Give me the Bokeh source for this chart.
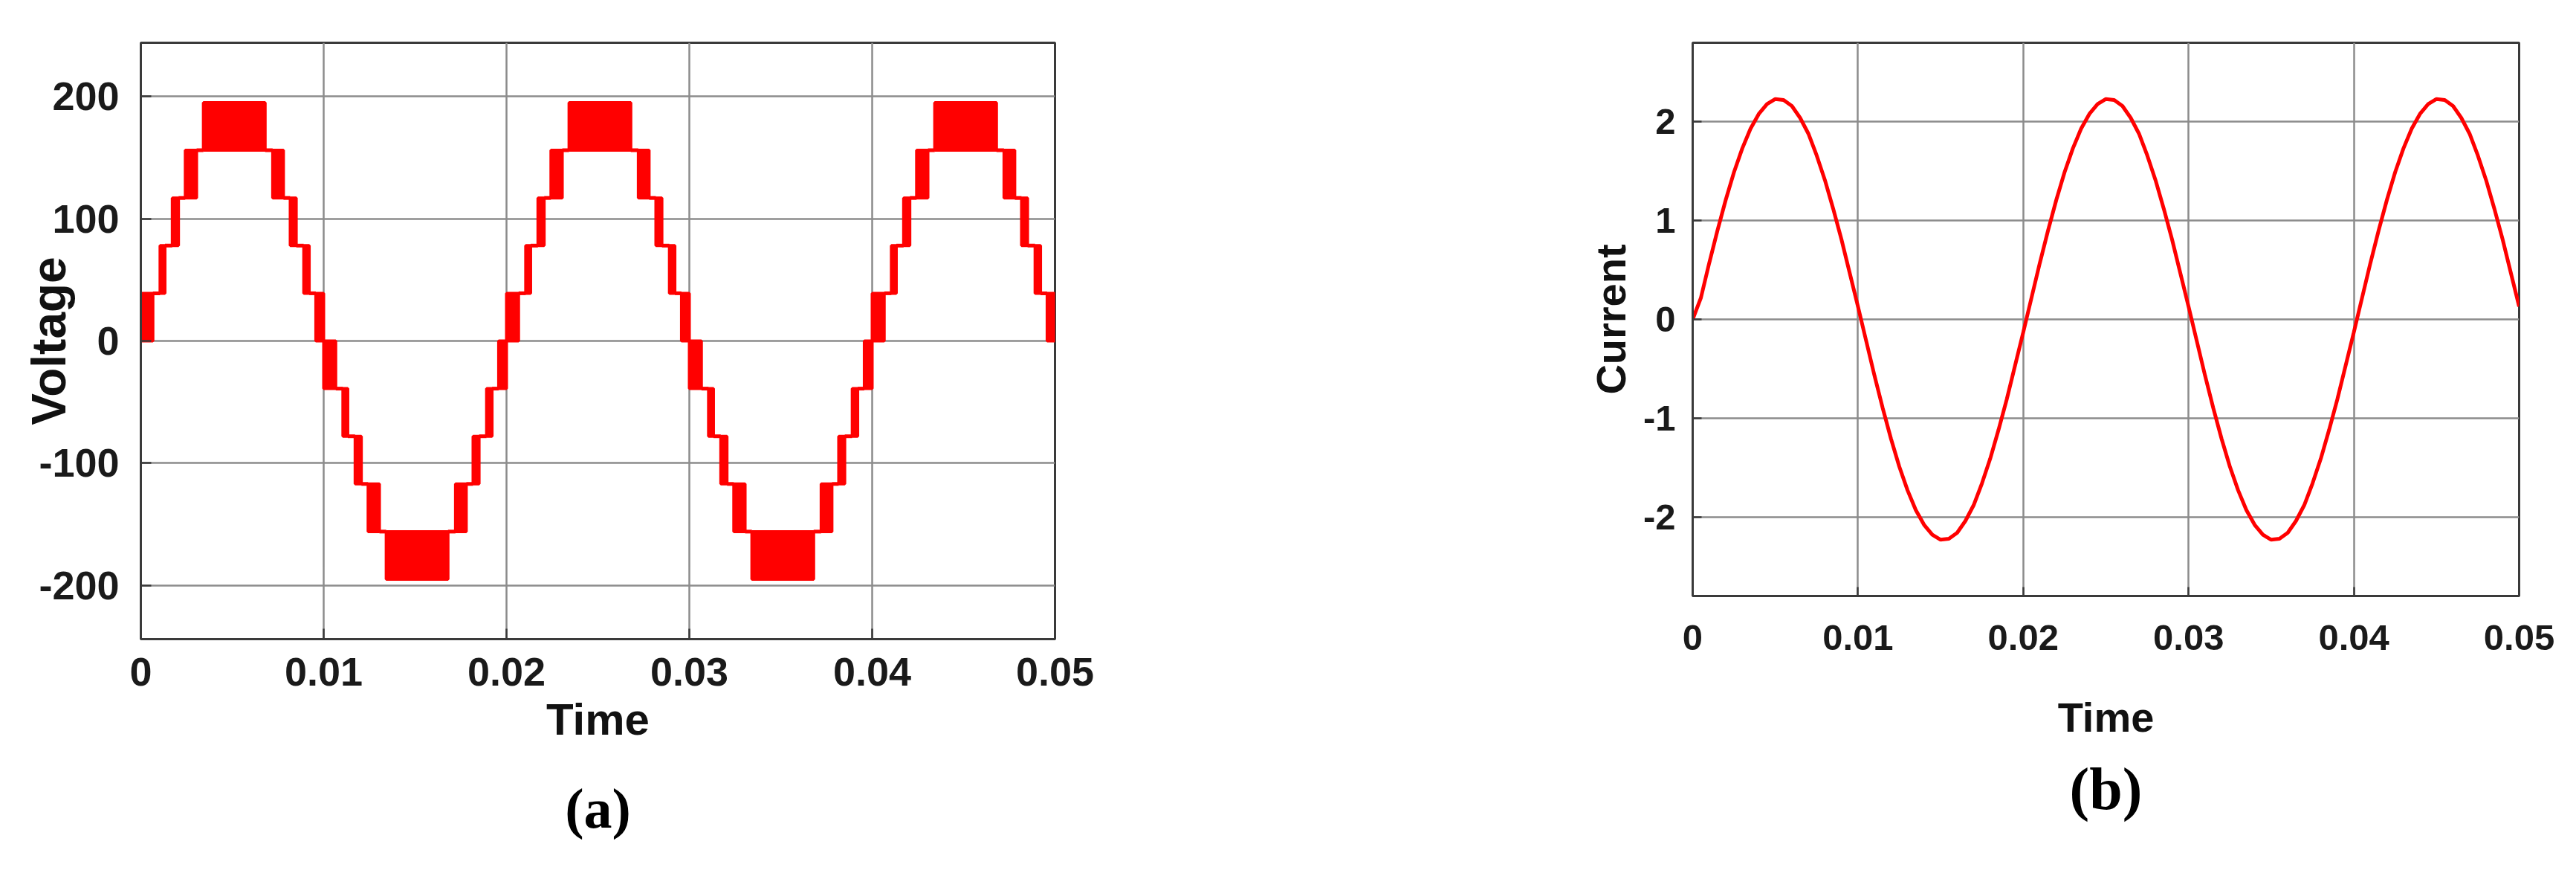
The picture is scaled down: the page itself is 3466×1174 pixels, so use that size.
from bokeh.plotting import figure
from bokeh.models import FixedTicker, Range1d, Title
from bokeh.layouts import row
from bokeh.embed import file_html
from bokeh.resources import INLINE

# ---------------- data ----------------
time_ticks = [0, 0.01, 0.02, 0.03, 0.04, 0.05]
time_tick_labels = ["0", "0.01", "0.02", "0.03", "0.04", "0.05"]
voltage_ticks = [-200, -100, 0, 100, 200]
voltage_tick_labels = ["-200", "-100", "0", "100", "200"]
current_ticks = [-2, -1, 0, 1, 2]
current_tick_labels = ["-2", "-1", "0", "1", "2"]

# (a) multilevel inverter voltage: staircase levels (V)
voltage_levels = [0, 39, 78, 117, 156, 195]
# PWM bands inside one half-cycle (ms from half-cycle start), switching lo <-> hi level
band_start_ms = [0.00, 1.05, 1.72, 2.43, 3.42, 7.21, 8.17, 8.91, 9.57]
band_end_ms = [0.66, 1.32, 2.06, 3.05, 6.80, 7.80, 8.50, 9.21, 10.00]
band_lo_level = [0, 1, 2, 3, 4, 3, 2, 1, 0]
band_hi_level = [1, 2, 3, 4, 5, 4, 3, 2, 1]
half_cycle_start_ms = [0, 10, 20, 30, 40]
half_cycle_sign = [1, -1, 1, -1, 1]

# (b) load current, sampled every 0.5 ms
current_time_ms = [0.5 * i for i in range(101)]
current_values = [
    0.00, 0.22, 0.57, 0.90, 1.21, 1.49, 1.73, 1.93, 2.08, 2.18,
    2.23, 2.22, 2.16, 2.04, 1.88, 1.66, 1.41, 1.12, 0.81, 0.47,
    0.13, -0.22, -0.57, -0.90, -1.21, -1.49, -1.73, -1.93, -2.08, -2.18,
    -2.23, -2.22, -2.16, -2.04, -1.88, -1.66, -1.41, -1.12, -0.81, -0.47,
    -0.13, 0.22, 0.57, 0.90, 1.21, 1.49, 1.73, 1.93, 2.08, 2.18,
    2.23, 2.22, 2.16, 2.04, 1.88, 1.66, 1.41, 1.12, 0.81, 0.47,
    0.13, -0.22, -0.57, -0.90, -1.21, -1.49, -1.73, -1.93, -2.08, -2.18,
    -2.23, -2.22, -2.16, -2.04, -1.88, -1.66, -1.41, -1.12, -0.81, -0.47,
    -0.13, 0.22, 0.57, 0.90, 1.21, 1.49, 1.73, 1.93, 2.08, 2.18,
    2.23, 2.22, 2.16, 2.04, 1.88, 1.66, 1.41, 1.12, 0.81, 0.47,
    0.13,
]

# ---------------- style ----------------
RED = "#ff0000"
GRID = "#8c8c8c"
BOX = "#3a3a3a"
SANS = "Liberation Sans"
SERIF = "Liberation Serif"


def style_plot(p, xt, xl, yt, yl, tick_size, tick_len, x_standoff, y_standoff,
               xlabel, ylabel, label_size_x, label_size_y, xlabel_standoff, ylabel_standoff):
    p.background_fill_color = "white"
    p.border_fill_color = "white"
    p.outline_line_color = BOX
    p.outline_line_width = 3
    p.outline_line_alpha = 1
    for g, t in ((p.xgrid, xt), (p.ygrid, yt)):
        g.ticker = FixedTicker(ticks=t)
        g.grid_line_color = GRID
        g.grid_line_width = 2.5
    bottom = p.below[0]
    left = p.left[0]
    for ax, t, labs, so in ((bottom, xt, xl, x_standoff), (left, yt, yl, y_standoff)):
        ax.ticker = FixedTicker(ticks=t)
        ax.major_label_overrides = {tv: lb for tv, lb in zip(t, labs)}
        ax.major_label_standoff = so
        ax.major_label_text_font = SANS
        ax.major_label_text_font_style = "bold"
        ax.major_label_text_font_size = f"{tick_size}px"
        ax.major_label_text_color = "#1a1a1a"
        ax.axis_line_color = BOX
        ax.axis_line_width = 3
        ax.major_tick_in = tick_len
        ax.major_tick_out = 0
        ax.major_tick_line_color = BOX
        ax.major_tick_line_width = 2.5
        ax.minor_tick_line_color = None
        ax.axis_label_text_font = SANS
        ax.axis_label_text_font_style = "bold"
        ax.axis_label_text_color = "#111111"
    bottom.axis_label = xlabel
    bottom.axis_label_text_font_size = f"{label_size_x}px"
    bottom.axis_label_standoff = xlabel_standoff
    left.axis_label = ylabel
    left.axis_label_text_font_size = f"{label_size_y}px"
    left.axis_label_standoff = ylabel_standoff


def add_caption(p, text, size, offset, standoff):
    p.add_layout(Title(text=text, text_font=SERIF, text_font_style="bold",
                       text_font_size=f"{size}px", text_color="black",
                       align="center", offset=offset, standoff=standoff), "below")


# ---------------- (a) voltage ----------------
FH = 1150
pa = figure(frame_width=1230, frame_height=802,
            min_border_left=189, min_border_right=273, min_border_top=16, min_border_bottom=FH - 16 - 802,
            x_range=Range1d(0, 0.05), y_range=Range1d(-244, 244),
            toolbar_location=None, output_backend="svg")
style_plot(pa, time_ticks, time_tick_labels, voltage_ticks, voltage_tick_labels,
           54, 14, 25, 29, "Time", "Voltage", 60, 64, 9, -53)

ql, qr, qb, qt = [], [], [], []
sx0, sx1, sy = [], [], []
nb = len(band_start_ms)
for h0, sgn in zip(half_cycle_start_ms, half_cycle_sign):
    for i in range(nb):
        ql.append((h0 + band_start_ms[i]) / 1000.0)
        qr.append((h0 + band_end_ms[i]) / 1000.0)
        qb.append(sgn * voltage_levels[band_lo_level[i]])
        qt.append(sgn * voltage_levels[band_hi_level[i]])
        if i < nb - 1:
            shared = ({band_lo_level[i], band_hi_level[i]} &
                      {band_lo_level[i + 1], band_hi_level[i + 1]}).pop()
            sx0.append((h0 + band_end_ms[i]) / 1000.0)
            sx1.append((h0 + band_start_ms[i + 1]) / 1000.0)
            sy.append(sgn * voltage_levels[shared])

pa.quad(left=ql, right=qr, bottom=qb, top=qt, fill_color=RED, line_color=RED, line_width=4)
pa.segment(x0=sx0, y0=sy, x1=sx1, y1=sy, line_color=RED, line_width=5)
add_caption(pa, "(a)", 76, -52, 78)

# ---------------- (b) current ----------------
pb = figure(frame_width=1112, frame_height=744,
            min_border_left=585, min_border_right=61, min_border_top=57, min_border_bottom=FH - 57 - 744,
            x_range=Range1d(0, 0.05), y_range=Range1d(-2.8, 2.8),
            toolbar_location=None, output_backend="svg")
style_plot(pb, time_ticks, time_tick_labels, current_ticks, current_tick_labels,
           49, 12, 39, 23, "Time", "Current", 56, 56, 56, 9)
pb.line(x=[t / 1000.0 for t in current_time_ms], y=current_values,
        line_color=RED, line_width=5)
add_caption(pb, "(b)", 80, -34, 33)

layout = row(pa, pb, spacing=0)
open("out.html", "w").write(file_html(layout, INLINE))
